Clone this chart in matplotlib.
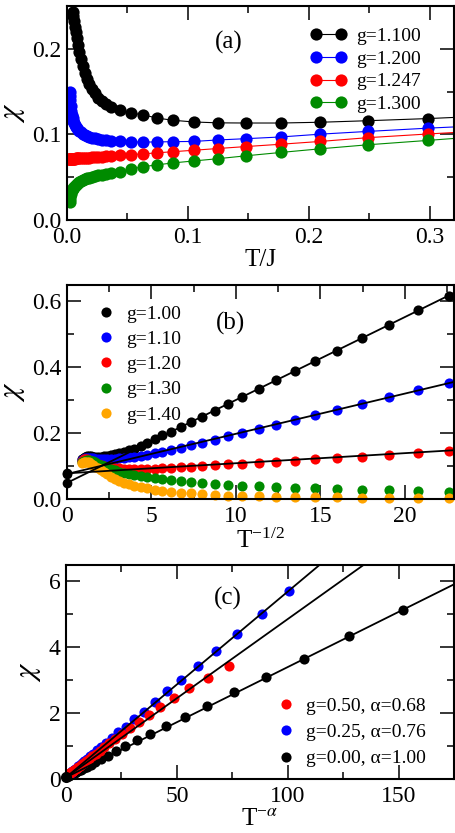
import numpy as np
import matplotlib
matplotlib.use('Agg')
import matplotlib.pyplot as plt
from matplotlib.ticker import MultipleLocator, FormatStrFormatter

plt.rcParams['font.family'] = ['Liberation Serif', 'DejaVu Serif']
plt.rcParams['mathtext.fontset'] = 'stix'

GREEN = '#008b00'
ORANGE = '#ffa500'

# ---------------- panel (a): chi vs T/J ----------------
T_a = [0.0015, 0.0018, 0.0021, 0.0024, 0.0028, 0.0032, 0.0036, 0.0041, 0.0046, 0.0052,
       0.0058, 0.0065, 0.0073, 0.0082, 0.0092, 0.0103, 0.0115, 0.0129, 0.0145, 0.0162,
       0.0182, 0.0204, 0.0229, 0.0257, 0.0288, 0.0323, 0.0362, 0.0438, 0.0529, 0.0625,
       0.0748, 0.0877, 0.105, 0.1247, 0.148, 0.1767, 0.2096, 0.249, 0.2986, 0.355]
chi_a_1100 = [0.243, 0.238, 0.232, 0.226, 0.220, 0.213, 0.205, 0.196, 0.188, 0.180,
              0.172, 0.165, 0.159, 0.153, 0.148, 0.143, 0.139, 0.135, 0.132, 0.128,
              0.125, 0.123, 0.119, 0.1165, 0.1145, 0.1135, 0.1133, 0.1133, 0.1142, 0.116,
              0.1185, 0.122]
chi_a_1200 = [0.149, 0.145, 0.140, 0.133, 0.127, 0.123, 0.119, 0.116, 0.1135, 0.111,
              0.109, 0.1075, 0.1055, 0.104, 0.1025, 0.101, 0.0998, 0.0985, 0.0973, 0.0963,
              0.0953, 0.0944, 0.0936, 0.093, 0.0925, 0.092, 0.0912, 0.091, 0.0912, 0.0915,
              0.0918, 0.0935, 0.095, 0.097, 0.1003, 0.1035, 0.1073, 0.111]
chi_a_1247 = [0.0711, 0.0712, 0.0712, 0.0713, 0.0713, 0.0714, 0.0714, 0.0715, 0.0716, 0.0716,
              0.0717, 0.0718, 0.0719, 0.072, 0.0721, 0.0722, 0.0723, 0.0725, 0.0726, 0.0728,
              0.073, 0.0732, 0.0735, 0.0738, 0.0741, 0.0745, 0.0749, 0.0757, 0.0764, 0.0772,
              0.0785, 0.0798, 0.0815, 0.0835, 0.0858, 0.0885, 0.0918, 0.0962, 0.1005, 0.105]
chi_a_1300 = [0.0215, 0.025, 0.028, 0.0305, 0.0325, 0.0345, 0.036, 0.0375, 0.0388, 0.040,
              0.0412, 0.0423, 0.0434, 0.0445, 0.0455, 0.0465, 0.0475, 0.0485, 0.0494, 0.0503,
              0.0512, 0.052, 0.0529, 0.0537, 0.0545, 0.0566, 0.0595, 0.0622, 0.0645, 0.0667,
              0.069, 0.0716, 0.075, 0.0789, 0.0832, 0.0879, 0.093, 0.099]
labels_a = ['g=1.100', 'g=1.200', 'g=1.247', 'g=1.300']

# ---------------- panel (b): chi vs T^-1/2 ----------------
x_b = [0.91, 0.99, 1.08, 1.18, 1.29, 1.41, 1.53, 1.67, 1.83, 1.99,
       2.17, 2.37, 2.58, 2.82, 3.07, 3.35, 3.66, 3.99, 4.35, 4.75,
       5.18, 5.65, 6.16, 6.72, 7.34, 8.0, 8.73, 9.53, 10.37, 11.35,
       12.38, 13.48, 14.7, 15.95, 17.48, 19.05, 20.79, 22.6]
chi_b_100 = [0.122, 0.126, 0.129, 0.130, 0.130, 0.130, 0.129, 0.129, 0.129, 0.129,
             0.130, 0.131, 0.133, 0.136, 0.139, 0.143, 0.148, 0.153, 0.160, 0.170,
             0.181, 0.193, 0.205, 0.219, 0.234, 0.250, 0.268, 0.288, 0.310, 0.334,
             0.360, 0.388, 0.419, 0.451, 0.489, 0.528, 0.573, 0.618]
chi_b_110 = [0.119, 0.123, 0.125, 0.126, 0.126, 0.125, 0.124, 0.123, 0.122, 0.122,
             0.122, 0.122, 0.122, 0.123, 0.124, 0.125, 0.127, 0.129, 0.132, 0.135,
             0.139, 0.144, 0.150, 0.156, 0.163, 0.171, 0.180, 0.190, 0.200, 0.213,
             0.226, 0.239, 0.255, 0.270, 0.289, 0.309, 0.330, 0.351]
chi_b_120 = [0.116, 0.120, 0.121, 0.121, 0.119, 0.116, 0.113, 0.109, 0.106, 0.103,
             0.100, 0.098, 0.096, 0.094, 0.093, 0.092, 0.0915, 0.091, 0.091, 0.0915,
             0.092, 0.093, 0.094, 0.096, 0.098, 0.100, 0.102, 0.105, 0.107, 0.110,
             0.113, 0.116, 0.120, 0.124, 0.128, 0.133, 0.140, 0.1465]
chi_b_130 = [0.111, 0.114, 0.116, 0.117, 0.117, 0.116, 0.114, 0.111, 0.107, 0.103,
             0.099, 0.095, 0.091, 0.087, 0.083, 0.080, 0.076, 0.073, 0.070, 0.067,
             0.064, 0.061, 0.058, 0.055, 0.052, 0.049, 0.046, 0.044, 0.041, 0.039,
             0.036, 0.034, 0.032, 0.030, 0.028, 0.026, 0.024, 0.022]
chi_b_140 = [0.110, 0.112, 0.113, 0.113, 0.112, 0.107, 0.103, 0.098, 0.093, 0.087,
             0.081, 0.075, 0.068, 0.062, 0.056, 0.050, 0.045, 0.040, 0.036, 0.032,
             0.028, 0.025, 0.022, 0.019, 0.017, 0.015, 0.012, 0.010, 0.009, 0.008,
             0.007, 0.006, 0.005, 0.005, 0.004, 0.004, 0.003, 0.003]
labels_b = ['g=1.00', 'g=1.10', 'g=1.20', 'g=1.30', 'g=1.40']
# straight fits (values at x = 0 and x = 23.5)
fit_b_x = [0, 23.5]
fit_b_100 = [0.049, 0.641]
fit_b_110 = [0.076, 0.363]
fit_b_120 = [0.078, 0.150]

# ---------------- panel (c): chi vs T^-alpha ----------------
x_c_000 = [0.83, 0.98, 1.17, 1.39, 1.66, 1.97, 2.35, 2.8, 3.3, 3.9,
           4.7, 5.6, 6.6, 7.9, 9.4, 11.2, 13.3, 15.8, 18.8, 22.4,
           26.7, 31.8, 37.8, 45.0, 53.5, 63.7, 75.8, 90.2, 107.3, 127.7, 152.0]
chi_c_000 = [0.10, 0.10, 0.105, 0.11, 0.12, 0.13, 0.14, 0.155, 0.17, 0.19,
             0.215, 0.245, 0.28, 0.325, 0.375, 0.435, 0.51, 0.60, 0.71, 0.84,
             0.99, 1.17, 1.37, 1.61, 1.89, 2.22, 2.63, 3.10, 3.64, 4.34, 5.14]
x_c_025 = [1.48, 1.69, 1.93, 2.2, 2.5, 2.86, 3.26, 3.72, 4.25, 4.85,
           5.5, 6.3, 7.2, 8.2, 9.4, 10.7, 12.2, 13.9, 15.9, 18.1,
           20.7, 23.6, 26.9, 30.7, 35.0, 40.0, 45.6, 52.0, 59.4, 67.7, 77.3, 88.2, 100.6]
chi_c_025 = [0.16, 0.17, 0.18, 0.19, 0.21, 0.23, 0.25, 0.28, 0.31, 0.34,
             0.38, 0.43, 0.48, 0.54, 0.61, 0.69, 0.77, 0.87, 0.98, 1.10,
             1.26, 1.42, 1.59, 1.81, 2.04, 2.34, 2.67, 3.02, 3.42, 3.89, 4.41, 5.02, 5.71]
x_c_050 = [1.22, 1.38, 1.57, 1.78, 2.0, 2.3, 2.6, 2.95, 3.35, 3.8,
           4.3, 4.9, 5.5, 6.3, 7.1, 8.1, 9.2, 10.4, 11.8, 13.4,
           15.2, 17.3, 19.6, 22.3, 25.3, 28.8, 32.8, 37.3, 42.5, 48.5, 55.6, 64.0, 73.7]
chi_c_050 = [0.14, 0.15, 0.16, 0.17, 0.18, 0.20, 0.21, 0.23, 0.25, 0.27,
             0.30, 0.33, 0.37, 0.41, 0.45, 0.50, 0.56, 0.62, 0.69, 0.77,
             0.86, 0.96, 1.08, 1.21, 1.36, 1.54, 1.72, 1.94, 2.19, 2.46, 2.75, 3.07, 3.42]
labels_c = ['g=0.50, α=0.68', 'g=0.25, α=0.76', 'g=0.00, α=1.00']
fit_c_000 = ([0, 180], [0.05, 6.08])
fit_c_025 = ([0, 120], [0.05, 6.82])
fit_c_050 = ([0, 140], [0.05, 6.78])

TICK_FS = 17
LABEL_FS = 18
LEG_FS = 14
CHI = r'$\chi$'


def style_axes(ax, xmaj, xmin, ymaj, ymin):
    ax.xaxis.set_major_locator(MultipleLocator(xmaj))
    ax.xaxis.set_minor_locator(MultipleLocator(xmin))
    ax.yaxis.set_major_locator(MultipleLocator(ymaj))
    ax.yaxis.set_minor_locator(MultipleLocator(ymin))
    ax.tick_params(which='both', direction='in', top=True, right=True,
                   labelsize=TICK_FS, width=1.1)
    ax.tick_params(which='major', length=10)
    ax.tick_params(which='minor', length=5)
    ax.tick_params(axis='x', which='major', pad=5)
    ax.tick_params(axis='y', which='major', pad=4)
    for s in ax.spines.values():
        s.set_linewidth(1.5)


fig = plt.figure(figsize=(4.55, 8.33), dpi=100)
ax_a = fig.add_axes([67/455, 1-220/833, 387/455, 214/833])
ax_b = fig.add_axes([67/455, 1-499/833, 387/455, 214/833])
ax_c = fig.add_axes([66/455, 1-779/833, 388/455, 214/833])

# (a)
for chi, col, lab in zip([chi_a_1100, chi_a_1200, chi_a_1247, chi_a_1300],
                         ['black', 'blue', 'red', GREEN], labels_a):
    ax_a.plot(T_a[-len(chi):], chi, '-o', color=col, lw=0.8, ms=8.8,
              markeredgewidth=0, label=lab)
ax_a.set_xlim(0, 0.32)
ax_a.set_ylim(0, 0.25)
style_axes(ax_a, 0.1, 0.05, 0.1, 0.05)
ax_a.xaxis.set_major_formatter(FormatStrFormatter('%.1f'))
ax_a.yaxis.set_major_formatter(FormatStrFormatter('%.1f'))
ax_a.set_xlabel('T/J', fontsize=LABEL_FS, labelpad=1)
ax_a.set_ylabel(CHI, fontsize=LABEL_FS + 4)
ax_a.yaxis.set_label_coords(-0.104, 0.5)
ax_a.text(0.134, 0.207, '(a)', fontsize=LABEL_FS, ha='center', va='center')
ax_a.legend(loc='upper left', bbox_to_anchor=(0.597, 0.956), frameon=False,
            fontsize=LEG_FS, numpoints=2, handlelength=1.9, handletextpad=0.5,
            labelspacing=0.27, borderaxespad=0.2)

# (b)
for chi, col, lab in zip([chi_b_100, chi_b_110, chi_b_120, chi_b_130, chi_b_140],
                         ['black', 'blue', 'red', GREEN, ORANGE], labels_b):
    ax_b.plot(x_b, chi, 'o', color=col, ms=7.3, markeredgewidth=0,
              label=lab, clip_on=False)
for fit in [fit_b_100, fit_b_110, fit_b_120]:
    ax_b.plot(fit_b_x, fit, '-', color='black', lw=1.3, zorder=4)
    ax_b.plot(fit_b_x[0], fit[0], 'o', color='black', ms=7, markeredgewidth=0,
              clip_on=False, zorder=5)
ax_b.set_xlim(0, 22.9)
ax_b.set_ylim(0, 0.65)
style_axes(ax_b, 5, 2.5, 0.2, 0.1)
ax_b.yaxis.set_major_formatter(FormatStrFormatter('%.1f'))
ax_b.set_xlabel(r'T$^{\mathregular{-1/2}}$', fontsize=LABEL_FS, labelpad=1)
ax_b.set_ylabel(CHI, fontsize=LABEL_FS + 4)
ax_b.yaxis.set_label_coords(-0.104, 0.5)
ax_b.text(9.67, 0.532, '(b)', fontsize=LABEL_FS, ha='center', va='center')
ax_b.legend(loc='upper left', bbox_to_anchor=(0.045, 0.96), frameon=False,
            fontsize=LEG_FS, numpoints=1, handlelength=1.0, handletextpad=0.55,
            labelspacing=0.39, borderaxespad=0.2)

# (c)
h = {}
for x, chi, col, lab in zip([x_c_000, x_c_025, x_c_050],
                            [chi_c_000, chi_c_025, chi_c_050],
                            ['black', 'blue', 'red'], labels_c[::-1]):
    h[lab], = ax_c.plot(x, chi, 'o', color=col, ms=7.3, markeredgewidth=0,
                        label=lab, clip_on=False)
for fx, fy in [fit_c_000, fit_c_025, fit_c_050]:
    ax_c.plot(fx, fy, '-', color='black', lw=1.3, zorder=4)
ax_c.plot(fit_c_000[0][0], fit_c_000[1][0], 'o', color='black', ms=8,
          markeredgewidth=0, clip_on=False, zorder=5)
ax_c.set_xlim(0, 175)
ax_c.set_ylim(0, 6.5)
style_axes(ax_c, 50, 25, 2, 1)
ax_c.set_xlabel(r'T$^{\mathregular{-}\alpha}$', fontsize=LABEL_FS, labelpad=1)
ax_c.set_ylabel(CHI, fontsize=LABEL_FS + 4)
ax_c.yaxis.set_label_coords(-0.058, 0.5)
ax_c.text(73.2, 5.48, '(c)', fontsize=LABEL_FS, ha='center', va='center')
ax_c.legend([h[l] for l in labels_c], labels_c, loc='lower right',
            bbox_to_anchor=(0.958, 0.0), frameon=False, fontsize=LEG_FS,
            numpoints=1, handlelength=1.0, handletextpad=0.55,
            labelspacing=0.45, borderaxespad=0.2)

fig.savefig('out.png', dpi=100)
